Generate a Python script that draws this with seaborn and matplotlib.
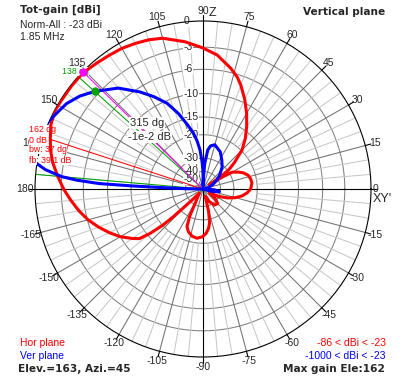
import numpy as np
import pandas as pd
import seaborn as sns
import matplotlib.pyplot as plt

sns.set_style("white")
plt.rcParams["font.family"] = ["Liberation Sans", "DejaVu Sans"]
plt.rcParams["font.size"] = 7.5

# pattern data, elevation angle (deg) / gain relative to norm (dB)
red_ang = [-180, -175, -170, -165, -160, -155, -150, -145, -142, -140, -138, -137, -135, -132,
           -120, -116, -113, -109, -103, -97, -91, -86, -82, -79, -76, -73,
           -65, -55, -45, -38, -32,
           -25, -20, -15, -10, -5, 0, 7, 12, 17, 22, 26, 30, 32, 33,
           35, 37, 40, 45, 50, 55, 60, 65, 70, 73, 77, 84, 90, 97, 105, 110, 115,
           120, 125, 130, 136, 142, 148, 152, 157, 162, 166, 170, 175, 180]
red_db = [-3.3, -4.2, -5.1, -6.1, -7.3, -8.6, -10.0, -11.8, -13.0, -15.7, -20, -25, -40, -60,
          -45, -30, -25, -23.3, -22, -21.6, -22.2, -23.5, -25.5, -28, -35, -55,
          -45, -38, -37, -42, -55,
          -40, -33, -28.5, -25.5, -23.6, -22.3, -21.7, -21.9, -22.5, -24, -26, -28.5, -36, -55,
          -35, -29, -25, -19.7, -16.6, -14, -11.6, -9.4, -7.4, -6.4, -5.4, -3.9, -3.1, -2.2, -1.3, -1.0, -0.8,
          -0.6, -0.5, -0.35, -0.1, -0.1, -0.1, -0.05, -0.3, -0.8, -1.2, -1.7, -2.5, -3.3]

blue_ang = [-180, -20, -15, -9, -4, 0, 15, 25, 33, 40, 49, 57, 65, 75, 80, 83, 86, 87.5, 88.5,
            89.5, 90.5, 92, 94.4, 97, 100, 103.6, 108, 112.7, 118, 123, 130, 138, 143, 148,
            153, 157, 162, 167, 171, 173, 175, 176, 177, 177.5, 178, 179, 180]
blue_db = [-200, -200, -50, -41, -48, -200, -60, -48, -41, -36, -31, -28, -25, -23, -23.8, -25.7, -33, -45, -70,
           -45, -38, -32, -25.8, -22, -19, -16.5, -13.3, -10.5, -8.4, -6.6, -4.3, -2.5, -1.5, -0.75,
           -0.3, 0.1, 0.8, 1.0, 0.2, -1.0, -3.0, -5, -8.5, -15, -24, -40, -200]

ring_db = [-3, -6, -10, -15, -20, -30, -40]
ring_labels = ["0", "-3", "-6", "-10", "-15", "-20", "-30", "-40", "-50"]
ring_label_db = [0, -3, -6, -10, -15, -20, -30, -40, -50]

K = 0.0565


def fwd(d):
    return np.exp(K * np.asarray(d, dtype=float))


def inv(r):
    return np.log(np.maximum(np.asarray(r, dtype=float), 1e-300)) / K


W, H = 410, 377
fig = plt.figure(figsize=(W / 100, H / 100), dpi=100, facecolor="w")
cx, cy, R = 203, 189, 168
ax = fig.add_axes([(cx - R) / W, 1 - (cy + R) / H, 2 * R / W, 2 * R / H], projection="polar")
ax.set_yscale("function", functions=(fwd, inv))
ax.set_ylim(-300, 0)
ax.grid(False)
ax.set_xticks([])
ax.set_yticks([])
ax.spines["polar"].set_color("black")
ax.spines["polar"].set_linewidth(0.8)

full = np.linspace(0, 2 * np.pi, 361)
for d in ring_db:
    ax.plot(full, np.full_like(full, d), color="#808080", lw=0.75, zorder=1)

for a in range(0, 360, 5):
    t = np.deg2rad(a)
    if a % 90 == 0:
        ax.plot([t, t], [-300, 0], color="black", lw=0.8, zorder=1.5)
    elif a % 15 == 0:
        ax.plot([t, t], [-300, 0], color="#707070", lw=0.75, zorder=1.2)
    else:
        ax.plot([t, t], [-20, 0], color="#c8c8c8", lw=0.75, zorder=1.1)
    if a % 15 == 0:
        ax.plot([t, t], [0, 0.6], color="black", lw=0.8, zorder=1.5, clip_on=False)

# angle labels
r_lab = np.log(178 / R) / K
for a in range(-165, 181, 15):
    if a in (0, 90):
        continue
    ax.text(np.deg2rad(a), r_lab, str(a), ha="center", va="center", fontsize=7.5,
            clip_on=False, zorder=3)
ax.text(np.deg2rad(90), r_lab, "90", ha="center", va="center", fontsize=7.5, clip_on=False)
fig.text(209 / W, 1 - 12.5 / H, "Z", ha="left", va="center", fontsize=9)
fig.text(373 / W, 1 - 189 / H, "0", ha="left", va="center", fontsize=7.5)
fig.text(373 / W, 1 - 199 / H, "XY'", ha="left", va="center", fontsize=9)

# ring labels
for lab, d in zip(ring_labels, ring_label_db):
    ax.annotate(lab, xy=(np.pi / 2, d), xytext=(-14, 0), textcoords="offset points",
                ha="left", va="center", fontsize=7.5, zorder=2,
                bbox=dict(boxstyle="square,pad=0.05", fc="white", ec="none"))

# beam markers
for a, c, top in [(162, "red", -0.8), (138, "#00a000", 0), (175, "#00a000", 0),
                  (135.7, "#ff00ff", 0)]:
    t = np.deg2rad(a)
    ax.plot([t, t], [-300, top], color=c, lw=0.75, zorder=3)

red = pd.DataFrame({"theta": np.deg2rad(red_ang), "gain": red_db})
blue = pd.DataFrame({"theta": np.deg2rad(blue_ang), "gain": blue_db})
sns.lineplot(data=red, x="theta", y="gain", sort=False, estimator=None, color="red",
             lw=2.2, ax=ax, zorder=5)
sns.lineplot(data=blue, x="theta", y="gain", sort=False, estimator=None, color="blue",
             lw=2.2, ax=ax, zorder=5)
ax.set_xlabel("")
ax.set_ylabel("")
ax.set_ylim(-300, 0)

ax.plot(np.deg2rad(135.7), -0.05, "o", color="#ff00ff", ms=5, zorder=6, clip_on=False)
ax.plot(np.deg2rad(138), -2.5, "o", color="#00a000", ms=5, zorder=6)


def ftext(x, y, s, **kw):
    # text placed in figure pixels, drawn inside the axes' z-order
    box = dict(boxstyle="square,pad=0.05", fc="white", ec="none")
    ax.text(x / W, 1 - y / H, s, transform=fig.transFigure, ha="left", va="center",
            clip_on=False, zorder=4, bbox=box, **kw)


ftext(130, 123, "315 dg", fontsize=8)
ftext(128, 137, "-1e-2 dB", fontsize=8)
ftext(62, 71.5, "138 dg", fontsize=6.3, color="#00a000")
for txt, y in [("162 dg", 130), ("0 dB", 140), ("bw: 37 dg", 149.5), ("fb: 39.1 dB", 160.5)]:
    ftext(29, y, txt, fontsize=6.3, color="red")

# header / footer texts
bold = dict(family=["DejaVu Sans"], weight="bold", fontsize=7.6)
fig.text(20 / W, 1 - 10 / H, "Tot-gain [dBi]", ha="left", va="center", **bold)
fig.text(20 / W, 1 - 25.5 / H, "Norm-All : -23 dBi", ha="left", va="center", fontsize=7.5)
fig.text(20 / W, 1 - 37.5 / H, "1.85 MHz", ha="left", va="center", fontsize=7.5)
fig.text(385 / W, 1 - 12 / H, "Vertical plane", ha="right", va="center", **bold)
fig.text(20 / W, 1 - 342.5 / H, "Hor plane", ha="left", va="center", fontsize=7.5, color="red")
fig.text(20 / W, 1 - 356 / H, "Ver plane", ha="left", va="center", fontsize=7.5, color="blue")
fig.text(18 / W, 1 - 369.5 / H, "Elev.=163, Azi.=45", ha="left", va="center", **bold)
fig.text(386 / W, 1 - 342.5 / H, "-86 < dBi < -23", ha="right", va="center", fontsize=7.5,
         color="red")
fig.text(386 / W, 1 - 356 / H, "-1000 < dBi < -23", ha="right", va="center", fontsize=7.5,
         color="blue")
fig.text(385 / W, 1 - 369.5 / H, "Max gain Ele:162", ha="right", va="center", **bold)

fig.savefig("out.png", dpi=100)
